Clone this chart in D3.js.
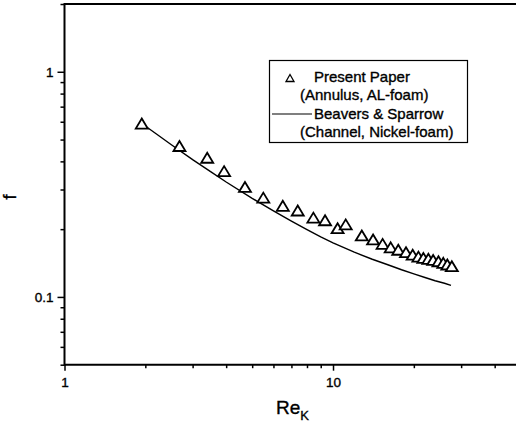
<!DOCTYPE html>
<html>
<head>
<meta charset="utf-8">
<script src="https://cdn.jsdelivr.net/npm/d3@7"></script>
<style>
  html, body { margin: 0; padding: 0; background: #fff; }
  svg { display: block; }
  text { font-family: "Liberation Sans", Arial, sans-serif; fill: #000; stroke: #000; stroke-width: 0.35px; }
</style>
</head>
<body>
<div id="chart"></div>
<script>
// Friction factor vs. permeability-based Reynolds number (log-log)
const presentRe = [1.94, 2.68, 3.40, 3.93, 4.70, 5.50, 6.50, 7.39, 8.45, 9.34, 10.4, 11.15, 12.8,
  14.1, 15.3, 16.4, 17.5, 18.7, 19.8, 20.8, 21.7, 22.65, 23.6, 24.7, 25.75, 26.65, 27.7];
const presentF = [0.589, 0.468, 0.415, 0.362, 0.308, 0.276, 0.254, 0.242, 0.225, 0.219, 0.202, 0.210, 0.1875,
  0.180, 0.172, 0.166, 0.162, 0.158, 0.154, 0.151, 0.149, 0.1477, 0.146, 0.144, 0.1417, 0.1393, 0.1369];

const beaversRe = [1.94, 2.2, 2.5, 3, 3.5, 4, 5, 6, 7, 8, 9, 10, 12, 14, 16, 18, 20, 22, 24, 26, 27.5];
const beaversF = [0.589, 0.529, 0.474, 0.407, 0.360, 0.324, 0.274, 0.241, 0.217, 0.199, 0.185, 0.174,
  0.158, 0.147, 0.139, 0.132, 0.1265, 0.122, 0.118, 0.115, 0.1125];

const xTickLabels = ["1", "10"];
const yTickLabels = ["0.1", "1"];
const legendLabels = [["Present Paper", "(Annulus, AL-foam)"], ["Beavers & Sparrow", "(Channel, Nickel-foam)"]];

const W = 516, H = 424;
const svg = d3.select("#chart").append("svg").attr("width", W).attr("height", H);

const x = d3.scaleLog().domain([1, 50]).range([64.5, 520.7]);
const y = d3.scaleLog().domain([0.05, 2]).range([364.7, 4]);

// frame: top edge
svg.append("line").attr("x1", x(1)).attr("x2", W).attr("y1", y(2)).attr("y2", y(2))
  .attr("stroke", "#000").attr("stroke-width", 2);

// bottom axis
const xTicks = [1, 2, 3, 4, 5, 6, 7, 8, 9, 10, 20, 30, 40];
const xAxis = d3.axisBottom(x).tickValues(xTicks).tickSize(0).tickFormat("");
const gx = svg.append("g").attr("transform", `translate(0,${y(0.05)})`).call(xAxis);
gx.select(".domain").remove();
gx.append("line").attr("x1", x(1)).attr("x2", W).attr("stroke", "#000").attr("stroke-width", 2);
gx.selectAll(".tick line").attr("stroke", "#000").attr("stroke-width", 1.5)
  .attr("y2", d => (d === 1 || d === 10) ? 6 : 3.5);
gx.selectAll(".tick").filter(d => d === 1 || d === 10).append("text")
  .attr("y", 22).attr("text-anchor", "middle").style("font-size", "13.5px")
  .text(d => xTickLabels[Math.round(Math.log10(d))]);

// left axis
const yTicks = [0.05, 0.06, 0.07, 0.08, 0.09, 0.1, 0.2, 0.3, 0.4, 0.5, 0.6, 0.7, 0.8, 0.9, 1, 2];
const yAxis = d3.axisLeft(y).tickValues(yTicks).tickSize(0).tickFormat("");
const gy = svg.append("g").attr("transform", `translate(${x(1)},0)`).call(yAxis);
gy.select(".domain").remove();
gy.append("line").attr("y1", y(0.05) + 1).attr("y2", y(2) - 1).attr("stroke", "#000").attr("stroke-width", 2);
gy.selectAll(".tick line").attr("stroke", "#000").attr("stroke-width", 1.5)
  .attr("x2", d => (d === 0.1 || d === 1) ? -7 : -4);
gy.selectAll(".tick").filter(d => d === 0.1 || d === 1).append("text")
  .attr("x", -11).attr("dy", "0.35em").attr("text-anchor", "end").style("font-size", "13.5px")
  .text(d => yTickLabels[Math.round(Math.log10(d)) + 1]);

// axis titles
const xt = svg.append("text").attr("x", 276).attr("y", 414).style("font-size", "19px");
xt.append("tspan").text("Re");
xt.append("tspan").attr("dy", 6).style("font-size", "13px").text("K");
svg.append("text").attr("transform", "translate(16,197) rotate(-90)")
  .attr("text-anchor", "middle").style("font-size", "18px").text("f");

// Beavers & Sparrow curve
const line = d3.line().x((d, i) => x(beaversRe[i])).y(d => y(d));
svg.append("path").datum(beaversF).attr("d", line)
  .attr("fill", "none").attr("stroke", "#000").attr("stroke-width", 1.4);

// present data: open triangles
const tri = (cx, cy, w, h) => `M${cx},${cy - h / 2}L${cx + w / 2},${cy + h / 2}L${cx - w / 2},${cy + h / 2}Z`;
svg.append("g").selectAll("path").data(presentF).join("path")
  .attr("d", (d, i) => tri(x(presentRe[i]), y(d), 12, 10))
  .attr("fill", "#fff").attr("stroke", "#000").attr("stroke-width", 1.8)
  .attr("stroke-linejoin", "miter");

// legend
const lg = svg.append("g");
lg.append("rect").attr("x", 269.5).attr("y", 60.5).attr("width", 198).attr("height", 82)
  .attr("fill", "#fff").attr("stroke", "#000").attr("stroke-width", 1.2);
lg.append("path").attr("d", tri(290, 78, 8, 7)).attr("fill", "none").attr("stroke", "#000").attr("stroke-width", 1.3);
lg.append("line").attr("x1", 272).attr("x2", 312).attr("y1", 114).attr("y2", 114)
  .attr("stroke", "#000").attr("stroke-width", 1.2);
const rows = [
  {t: legendLabels[0][0], x: 314, y: 82},
  {t: legendLabels[0][1], x: 300, y: 100},
  {t: legendLabels[1][0], x: 314, y: 118.5},
  {t: legendLabels[1][1], x: 300, y: 137}
];
lg.selectAll("text.lab").data(rows).join("text").attr("class", "lab")
  .attr("x", d => d.x).attr("y", d => d.y).style("font-size", "15px").text(d => d.t);
</script>
</body>
</html>
